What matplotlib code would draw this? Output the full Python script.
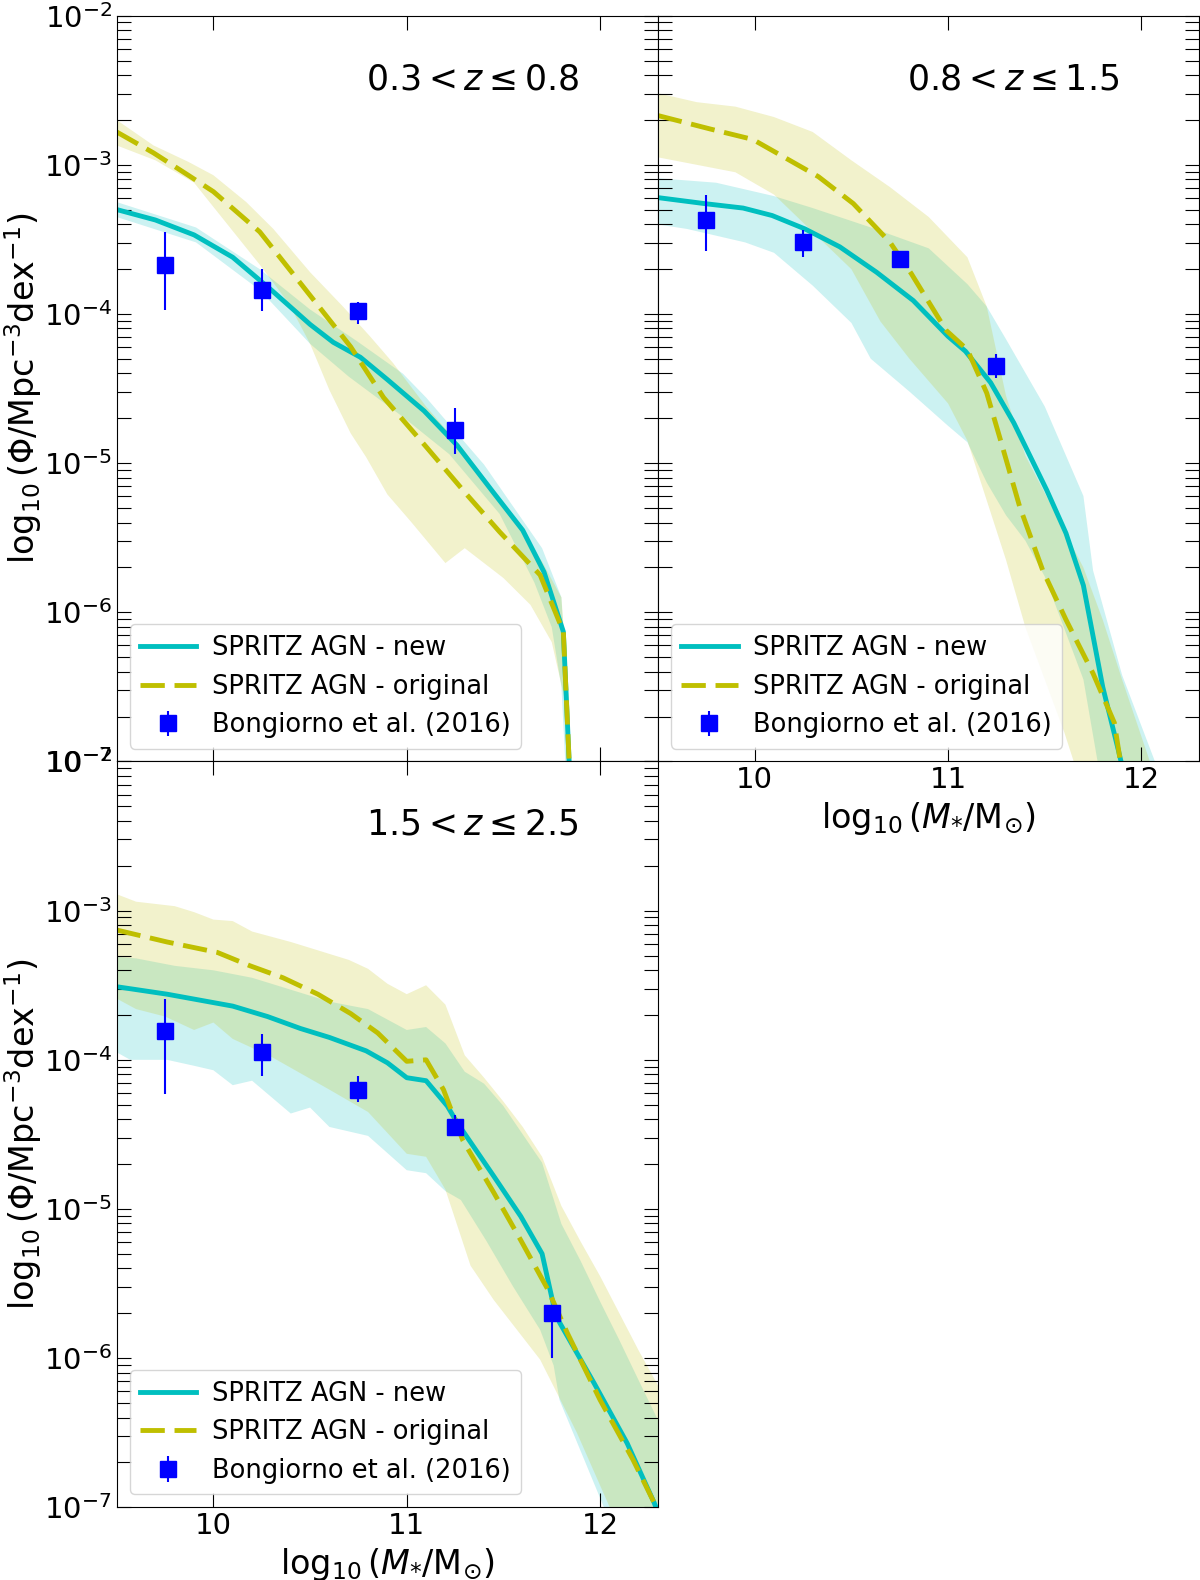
import numpy as np
import matplotlib
matplotlib.use('Agg')
import matplotlib.pyplot as plt

# all y values are log10(Phi)

# ---- panel 1 : 0.3 < z <= 0.8
x_new_1 = [9.5, 9.7, 9.9, 10.1, 10.3, 10.5, 10.62, 10.76, 10.9, 11.09, 11.26, 11.45, 11.6, 11.71, 11.81, 11.84, 11.86]
lg_new_1 = [-3.30, -3.37, -3.47, -3.62, -3.84, -4.07, -4.19, -4.29, -4.44, -4.65, -4.88, -5.20, -5.45, -5.73, -6.13, -7.0, -8.5]
x_org_1 = [9.5, 9.69, 9.87, 10.0, 10.24, 10.46, 10.71, 10.88, 11.1, 11.31, 11.48, 11.69, 11.81, 11.84, 11.86]
lg_org_1 = [-2.78, -2.92, -3.07, -3.18, -3.45, -3.81, -4.22, -4.56, -4.89, -5.21, -5.46, -5.75, -6.13, -7.0, -8.5]

xnu_1 = [9.5, 9.91, 10.24, 10.5, 10.74, 10.98, 11.1, 11.4, 11.7, 11.8, 11.84, 11.87]
nu_1 = [-3.25, -3.42, -3.70, -3.97, -4.18, -4.40, -4.56, -5.01, -5.57, -5.90, -6.8, -8.5]
xnl_1 = [9.5, 9.91, 10.24, 10.5, 10.7, 10.98, 11.22, 11.48, 11.66, 11.75, 11.8, 11.84]
nl_1 = [-3.35, -3.52, -3.84, -4.20, -4.42, -4.69, -4.94, -5.34, -5.80, -6.1, -6.5, -7.5]
xou_1 = [9.5, 9.69, 9.87, 10.0, 10.17, 10.31, 10.5, 10.67, 10.81, 10.93, 11.0, 11.1, 11.3, 11.5, 11.7, 11.8, 11.84, 11.87]
ou_1 = [-2.70, -2.87, -2.98, -3.07, -3.25, -3.43, -3.72, -3.95, -4.15, -4.33, -4.45, -4.62, -4.92, -5.27, -5.66, -5.9, -6.6, -8.5]
xol_1 = [9.5, 9.7, 9.9, 9.98, 10.24, 10.39, 10.5, 10.6, 10.71, 10.79, 10.9, 11.02, 11.2, 11.3, 11.5, 11.64, 11.75, 11.82, 11.86]
ol_1 = [-2.87, -2.97, -3.12, -3.25, -3.67, -3.93, -4.20, -4.51, -4.80, -4.96, -5.21, -5.39, -5.67, -5.57, -5.77, -5.95, -6.2, -6.6, -8.5]

bx_1 = [9.75, 10.25, 10.75, 11.25]
by_1 = [-3.67, -3.84, -3.98, -4.78]
blo_1 = [-3.97, -3.98, -4.07, -4.94]
bhi_1 = [-3.45, -3.70, -3.92, -4.63]

# ---- panel 2 : 0.8 < z <= 1.5
x_new_2 = [9.5, 9.74, 9.94, 10.09, 10.26, 10.44, 10.63, 10.82, 11.0, 11.09, 11.22, 11.34, 11.51, 11.61, 11.70, 11.80, 11.88, 11.95]
lg_new_2 = [-3.22, -3.26, -3.29, -3.34, -3.43, -3.55, -3.72, -3.91, -4.15, -4.25, -4.46, -4.73, -5.18, -5.47, -5.82, -6.50, -6.92, -7.3]
x_org_2 = [9.5, 9.77, 9.99, 10.14, 10.33, 10.51, 10.70, 10.81, 10.99, 11.10, 11.20, 11.27, 11.37, 11.49, 11.61, 11.75, 11.86, 11.89, 11.95]
lg_org_2 = [-2.67, -2.76, -2.83, -2.94, -3.08, -3.26, -3.52, -3.73, -4.11, -4.24, -4.53, -4.84, -5.29, -5.72, -6.05, -6.41, -6.74, -6.99, -7.2]

xnu_2 = [9.5, 9.8, 10.1, 10.3, 10.6, 10.9, 11.0, 11.1, 11.2, 11.3, 11.5, 11.7, 11.75, 11.9, 12.07]
nu_2 = [-3.09, -3.12, -3.21, -3.29, -3.42, -3.56, -3.68, -3.80, -3.95, -4.17, -4.62, -5.22, -5.72, -6.42, -7.0]
xnl_2 = [9.5, 9.65, 9.95, 10.1, 10.3, 10.5, 10.6, 10.8, 11.0, 11.1, 11.2, 11.3, 11.4, 11.5, 11.7, 11.78]
nl_2 = [-3.40, -3.43, -3.52, -3.59, -3.81, -4.06, -4.30, -4.52, -4.75, -4.86, -5.13, -5.35, -5.52, -5.76, -6.45, -7.05]
xou_2 = [9.5, 9.7, 9.9, 10.1, 10.3, 10.5, 10.7, 10.9, 11.1, 11.2, 11.3, 11.4, 11.5, 11.6, 11.7, 11.8, 11.9, 12.07]
ou_2 = [-2.52, -2.58, -2.61, -2.68, -2.78, -2.97, -3.15, -3.35, -3.62, -3.95, -4.55, -4.95, -5.2, -5.45, -5.7, -6.05, -6.45, -7.1]
xol_2 = [9.5, 9.7, 9.9, 10.1, 10.3, 10.5, 10.65, 10.8, 11.0, 11.1, 11.2, 11.3, 11.4, 11.5, 11.6, 11.7]
ol_2 = [-2.95, -3.0, -3.05, -3.2, -3.45, -3.7, -4.05, -4.3, -4.6, -4.85, -5.25, -5.65, -6.1, -6.45, -6.8, -7.2]

bx_2 = [9.75, 10.25, 10.75, 11.25]
by_2 = [-3.37, -3.52, -3.63, -4.35]
blo_2 = [-3.58, -3.62, -3.67, -4.43]
bhi_2 = [-3.20, -3.44, -3.59, -4.27]

# ---- panel 3 : 1.5 < z <= 2.5
x_new_3 = [9.5, 9.76, 10.1, 10.28, 10.45, 10.6, 10.79, 10.9, 11.0, 11.1, 11.21, 11.26, 11.45, 11.59, 11.70, 11.76, 11.79, 11.97, 12.14, 12.28, 12.35]
lg_new_3 = [-3.51, -3.56, -3.64, -3.71, -3.79, -3.85, -3.94, -4.02, -4.12, -4.14, -4.31, -4.42, -4.78, -5.05, -5.30, -5.65, -5.76, -6.17, -6.57, -6.97, -7.2]
x_org_3 = [9.5, 9.76, 10.02, 10.19, 10.36, 10.54, 10.71, 10.85, 11.0, 11.1, 11.19, 11.29, 11.45, 11.59, 11.73, 11.83, 12.0, 12.17, 12.28, 12.35]
lg_org_3 = [-3.13, -3.21, -3.28, -3.37, -3.45, -3.56, -3.69, -3.82, -4.01, -4.00, -4.20, -4.54, -4.89, -5.21, -5.54, -5.83, -6.28, -6.68, -6.97, -7.15]

xnu_3 = [9.5, 9.6, 9.8, 10.0, 10.2, 10.4, 10.6, 10.8, 11.0, 11.1, 11.2, 11.3, 11.4, 11.5, 11.6, 11.7, 11.8, 11.9, 12.0, 12.1, 12.2, 12.35]
nu_3 = [-3.31, -3.32, -3.37, -3.40, -3.45, -3.53, -3.61, -3.66, -3.80, -3.78, -3.89, -4.08, -4.16, -4.31, -4.50, -4.69, -5.10, -5.35, -5.62, -5.88, -6.15, -6.55]
xnl_3 = [9.5, 9.57, 9.76, 9.9, 10.0, 10.1, 10.2, 10.4, 10.5, 10.6, 10.8, 11.0, 11.1, 11.2, 11.28, 11.41, 11.55, 11.69, 11.76, 11.79, 12.02, 12.35]
nl_3 = [-3.95, -4.0, -4.0, -4.04, -4.07, -4.17, -4.14, -4.36, -4.32, -4.45, -4.51, -4.74, -4.76, -4.88, -4.94, -5.21, -5.52, -5.81, -6.05, -6.28, -7.0, -7.7]
xou_3 = [9.5, 9.6, 9.8, 9.9, 10.0, 10.1, 10.2, 10.4, 10.5, 10.7, 10.8, 10.9, 11.0, 11.1, 11.2, 11.3, 11.4, 11.5, 11.6, 11.7, 11.8, 11.9, 12.0, 12.1, 12.2, 12.35]
ou_3 = [-2.89, -2.94, -2.97, -3.01, -3.06, -3.07, -3.14, -3.21, -3.25, -3.33, -3.39, -3.49, -3.56, -3.50, -3.63, -3.97, -4.12, -4.28, -4.45, -4.65, -4.98, -5.22, -5.45, -5.70, -5.95, -6.3]
xol_3 = [9.5, 9.6, 9.75, 9.9, 10.0, 10.1, 10.3, 10.45, 10.6, 10.8, 11.0, 11.1, 11.2, 11.33, 11.45, 11.57, 11.69, 11.76, 11.88, 12.05, 12.35]
ol_3 = [-3.59, -3.66, -3.71, -3.80, -3.75, -3.86, -3.98, -4.09, -4.20, -4.35, -4.63, -4.65, -4.87, -5.38, -5.61, -5.81, -6.01, -6.19, -6.50, -7.0, -7.7]

bx_3 = [9.75, 10.25, 10.75, 11.25, 11.75]
by_3 = [-3.81, -3.95, -4.20, -4.45, -5.70]
blo_3 = [-4.23, -4.11, -4.28, -4.51, -6.0]
bhi_3 = [-3.59, -3.83, -4.11, -4.37, -5.65]

z_labels = [r'$0.3 < z \leq 0.8$', r'$0.8 < z \leq 1.5$', r'$1.5 < z \leq 2.5$']


def phi(v):
    return 10 ** np.asarray(v, dtype=float)


def band(ax, xu, yu, xl, yl, col):
    xs = np.concatenate([xu, xl[::-1]])
    ys = np.concatenate([yu, yl[::-1]])
    ax.fill(xs, phi(ys), color=col, alpha=0.2, lw=0)


def panel(ax, xn, ln, xo, lo, xnu, nu, xnl, nl, xou, ou, xol, ol, bx, by, blo, bhi, zlab):
    band(ax, xnu, nu, xnl, nl, 'c')
    band(ax, xou, ou, xol, ol, 'y')
    ax.plot(xn, phi(ln), color='c', lw=3.5, label='SPRITZ AGN - new')
    ax.plot(xo, phi(lo), color='y', lw=3.5, ls='--', dashes=(5, 2),
            label='SPRITZ AGN - original')
    p = phi(by)
    ax.errorbar(bx, p, yerr=[p - phi(blo), phi(bhi) - p], fmt='s', color='b',
                ms=11, elinewidth=1.5, label='Bongiorno et al. (2016)')
    ax.set_yscale('log')
    ax.set_xlim(9.5, 12.3)
    ax.set_ylim(1e-7, 1e-2)
    ax.set_xticks([10, 11, 12])
    ax.tick_params(which='both', direction='in', top=True, right=True,
                   length=10, width=0.8, labelsize=21)
    ax.text(10.79, 0.915, zlab, transform=ax.get_xaxis_transform(),
            fontsize=25, va='center', ha='left')
    ax.legend(loc='lower left', fontsize=18.5, handlelength=2.2, handletextpad=0.6)


fig = plt.figure(figsize=(12, 15.8), dpi=100)
gs = fig.add_gridspec(2, 2, left=0.0973, right=0.9995, top=0.9901, bottom=0.046,
                      hspace=0, wspace=0)
ax1 = fig.add_subplot(gs[0, 0])
ax2 = fig.add_subplot(gs[0, 1])
ax3 = fig.add_subplot(gs[1, 0])

panel(ax1, x_new_1, lg_new_1, x_org_1, lg_org_1, xnu_1, nu_1, xnl_1, nl_1,
      xou_1, ou_1, xol_1, ol_1, bx_1, by_1, blo_1, bhi_1, z_labels[0])
panel(ax2, x_new_2, lg_new_2, x_org_2, lg_org_2, xnu_2, nu_2, xnl_2, nl_2,
      xou_2, ou_2, xol_2, ol_2, bx_2, by_2, blo_2, bhi_2, z_labels[1])
panel(ax3, x_new_3, lg_new_3, x_org_3, lg_org_3, xnu_3, nu_3, xnl_3, nl_3,
      xou_3, ou_3, xol_3, ol_3, bx_3, by_3, blo_3, bhi_3, z_labels[2])

ax1.tick_params(labelbottom=False)
ax2.tick_params(labelleft=False)

ylab = r'$\log_{10}(\Phi/\mathrm{Mpc}^{-3}\mathrm{dex}^{-1})$'
xlab = r'$\log_{10}(M_{*}/\mathrm{M}_{\odot})$'
ax1.set_ylabel(ylab, fontsize=24, labelpad=0)
ax3.set_ylabel(ylab, fontsize=24, labelpad=0)
ax2.set_xlabel(xlab, fontsize=24)
ax3.set_xlabel(xlab, fontsize=24)

fig.savefig('out.png', dpi=100)
